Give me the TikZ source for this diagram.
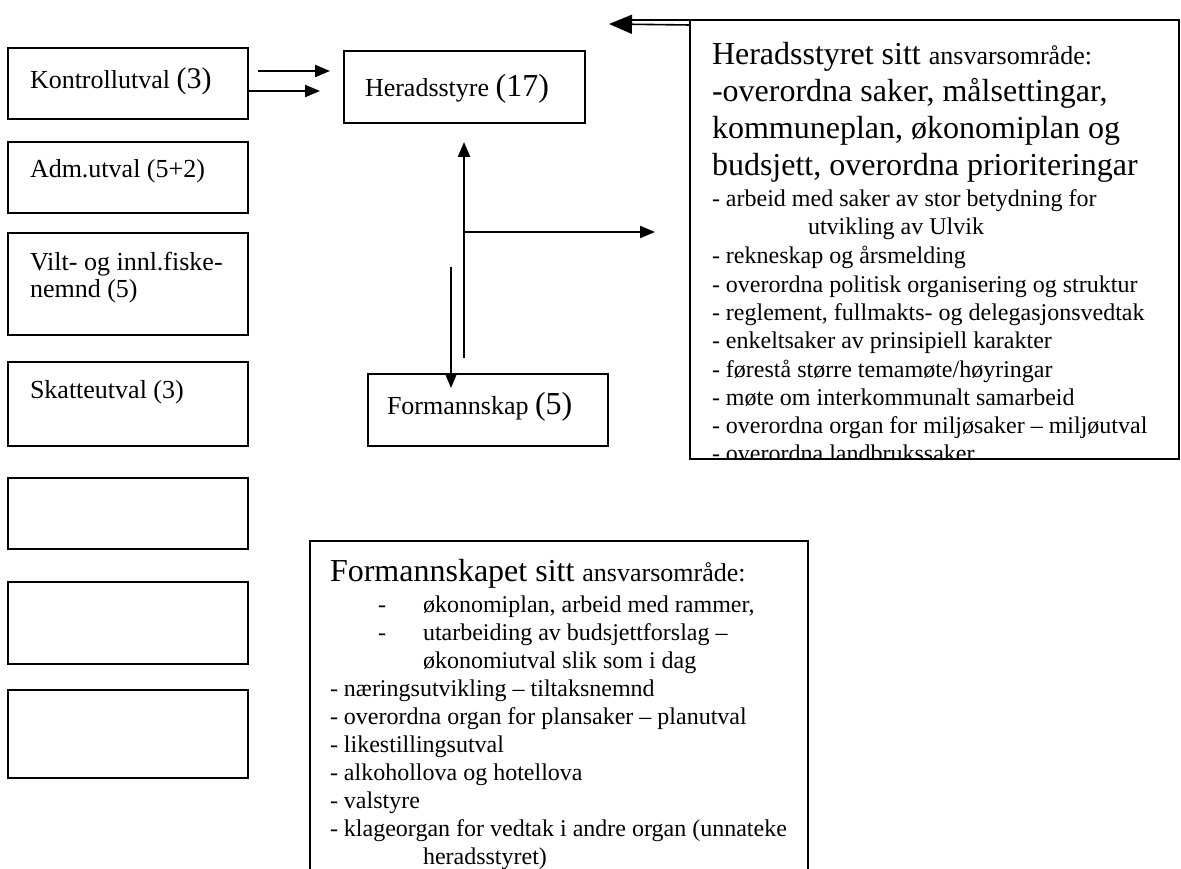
\documentclass[tikz,border=0pt]{standalone}
\usepackage{fontspec}
\setmainfont{Liberation Serif}
\usetikzlibrary{arrows.meta}
\tikzset{
 box/.style={draw,line width=1.8pt,inner sep=0pt,outer sep=0pt,anchor=north west},
 conn/.style={line width=2.2pt,-{Triangle[length=15pt,width=12pt]}},
 lbl/.style={anchor=base west,inner sep=0pt,outer sep=0pt},
}
\newcommand\fs[1]{\fontsize{#1}{#1}\selectfont}
\begin{document}
\begin{tikzpicture}[x=1pt,y=-1pt]
\useasboundingbox (0,0) rectangle (1181,869);
\clip (0,0) rectangle (1181,869);
% left column
\node[box,minimum width=240pt,minimum height=71pt] (k) at (8,48) {};
\node[box,minimum width=240pt,minimum height=71pt] (adm) at (8,142) {};
\node[box,minimum width=240pt,minimum height=102pt] (vilt) at (8,233) {};
\node[box,minimum width=240pt,minimum height=84pt] (skatt) at (8,362) {};
\node[box,minimum width=240pt,minimum height=71pt] (e1) at (8,478) {};
\node[box,minimum width=240pt,minimum height=82pt] (e2) at (8,582) {};
\node[box,minimum width=240pt,minimum height=88pt] (e3) at (8,690) {};
\node[lbl] (kt) at (30,89) {\fs{26}Kontrollutval \fs{30}(3)};
\node[lbl] (admt) at (30,178) {\fs{26}Adm.utval (5+2)};
\node[lbl] (vt1) at (30,270) {\fs{26}Vilt- og innl.fiske-};
\node[lbl] (vt2) at (30,298) {\fs{26}nemnd (5)};
\node[lbl] (st) at (30,398) {\fs{26}Skatteutval (3)};
% centre
\node[box,minimum width=241pt,minimum height=72pt] (hs) at (344,51) {};
\node[lbl] (hst) at (365,97) {\fs{26}Heradsstyre \fs{32}(17)};
\node[box,minimum width=240pt,minimum height=72pt] (fs) at (368,374) {};
\node[lbl] (fst) at (387,414) {\fs{26}Formannskap \fs{32}(5)};
% Heradsstyret box
\node[box,minimum width=489pt,minimum height=439pt] (hb) at (690,20) {};
\begin{scope}
\clip (691,21) rectangle (1178,458);
\node[lbl] (h1) at (712,65) {\fs{32}Heradsstyret sitt \fs{26}ansvarsområde:};
\node[lbl] (h2) at (712,102) {\fs{32}-overordna saker, målsettingar,};
\node[lbl] (h3) at (712,139) {\fs{32}kommuneplan, økonomiplan og};
\node[lbl] (h4) at (712,176) {\fs{32}budsjett, overordna prioriteringar};
\node[lbl] (h5) at (712,207) {\fs{24}- arbeid med saker av stor betydning for};
\node[lbl] (h6) at (808,235) {\fs{24}utvikling av Ulvik};
\node[lbl] (h7) at (712,263) {\fs{24}- rekneskap og årsmelding};
\node[lbl] (h8) at (712,292) {\fs{24}- overordna politisk organisering og struktur};
\node[lbl] (h9) at (712,320) {\fs{24}- reglement, fullmakts- og delegasjonsvedtak};
\node[lbl] (h10) at (712,348) {\fs{24}- enkeltsaker av prinsipiell karakter};
\node[lbl] (h11) at (712,377) {\fs{24}- førestå større temamøte/høyringar};
\node[lbl] (h12) at (712,405) {\fs{24}- møte om interkommunalt samarbeid};
\node[lbl] (h13) at (712,433) {\fs{24}- overordna organ for miljøsaker – miljøutval};
\node[lbl] (h14) at (712,461) {\fs{24}- overordna landbrukssaker};
\end{scope}
\draw[line width=1.8pt] (hb.north west) -- (hb.north east);
\draw[line width=1.8pt] (hb.south west) -- (hb.south east);
% Formannskapet box
\node[box,minimum width=498pt,minimum height=360pt] (fb) at (310,541) {};
\node[lbl] (f1) at (330,581) {\fs{32}Formannskapet sitt \fs{26}ansvarsområde:};
\node[lbl] (f2a) at (378,612) {\fs{24}-};
\node[lbl] (f2) at (423,612) {\fs{24}økonomiplan, arbeid med rammer,};
\node[lbl] (f3a) at (378,640) {\fs{24}-};
\node[lbl] (f3) at (423,640) {\fs{24}utarbeiding av budsjettforslag –};
\node[lbl] (f4) at (423,668) {\fs{24}økonomiutval slik som i dag};
\node[lbl] (f5) at (330,696) {\fs{24}- næringsutvikling – tiltaksnemnd};
\node[lbl] (f6) at (330,724) {\fs{24}- overordna organ for plansaker – planutval};
\node[lbl] (f7) at (330,752) {\fs{24}- likestillingsutval};
\node[lbl] (f8) at (330,780) {\fs{24}- alkohollova og hotellova};
\node[lbl] (f9) at (330,808) {\fs{24}- valstyre};
\node[lbl] (f10) at (330,836) {\fs{24}- klageorgan for vedtak i andre organ (unnateke};
\node[lbl] (f11) at (423,864) {\fs{24}heradsstyret)};
% connectors
\coordinate (a1s) at (258,71);
\coordinate (a1e) at (330,71);
\coordinate (a2e) at (320,91);
\draw[conn] (a1s) -- (a1e);
\draw[conn] (k.east |- a2e) -- (a2e);
\coordinate (upS) at (464,358);
\coordinate (upE) at (464,142);
\coordinate (br) at (464,232);
\coordinate (brE) at (655,232);
\draw[conn] (upS) -- (upE);
\draw[conn] (br) -- (brE);
\coordinate (dnS) at (451,267);
\coordinate (dnE) at (451,388);
\draw[conn] (dnS) -- (dnE);
\coordinate (tS) at (787,20);
\coordinate (tM) at (632,20);
\coordinate (tE) at (609,24);
\draw[line width=2.4pt] (tS) -- (tM);
\draw[line width=1.6pt,-{Triangle[length=23pt,width=19pt]}] (hb.north west |- 0,25) -- (tE);
\end{tikzpicture}
\end{document}
